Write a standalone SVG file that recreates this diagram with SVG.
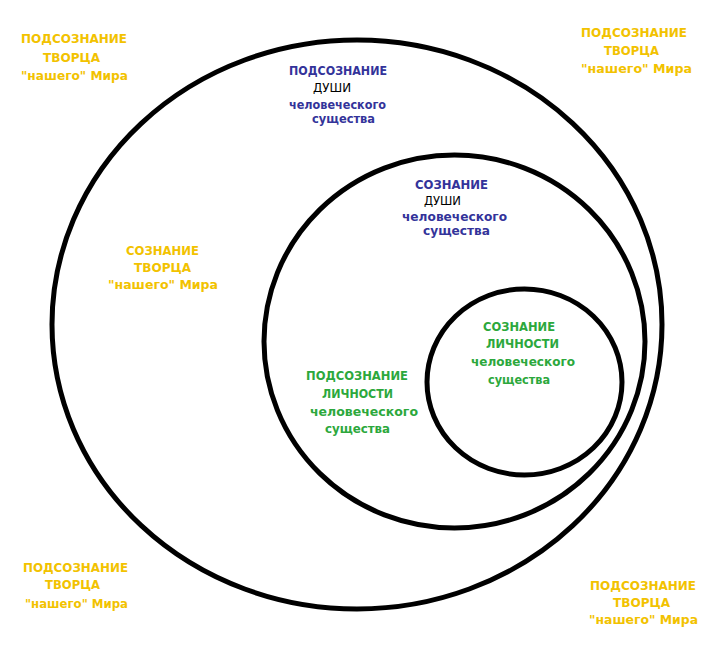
<svg xmlns="http://www.w3.org/2000/svg" width="723" height="660" viewBox="0 0 723 660">
<style>
.ring{fill:none;stroke:#000;stroke-width:5}
text{font-family:"DejaVu Sans","Liberation Sans",Arial,sans-serif;font-weight:bold;font-size:13px;}
.y{fill:#f2c200}
.b{fill:#33339a;font-size:12.5px}
.g{fill:#2ca83c;font-size:12.5px}
.k{fill:#000;font-weight:normal;font-size:13px}
</style>
<rect width="723" height="660" fill="#fff"/>
<g id="outer-circle"><ellipse class="ring" cx="357" cy="324.5" rx="305" ry="284.5"/></g>
<g id="middle-circle"><ellipse class="ring" cx="454.5" cy="341.5" rx="190.5" ry="186.5"/></g>
<g id="inner-circle"><ellipse class="ring" cx="524.5" cy="382" rx="97.5" ry="93" stroke-width="4.5"/></g>
<g id="connectors"></g>

<g id="label-top-left" class="y">
<text x="21" y="43" textLength="106" lengthAdjust="spacingAndGlyphs">ПОДСОЗНАНИЕ</text>
<text x="43" y="62" textLength="57" lengthAdjust="spacingAndGlyphs">ТВОРЦА</text>
<text x="21" y="80" textLength="107" lengthAdjust="spacingAndGlyphs">"нашего" Мира</text>
</g>
<g id="label-top-right" class="y">
<text x="581" y="37" textLength="106" lengthAdjust="spacingAndGlyphs">ПОДСОЗНАНИЕ</text>
<text x="604" y="55" textLength="55" lengthAdjust="spacingAndGlyphs">ТВОРЦА</text>
<text x="581" y="73" textLength="111" lengthAdjust="spacingAndGlyphs">"нашего" Мира</text>
</g>
<g id="label-creator-consciousness" class="y">
<text x="126" y="255" textLength="73" lengthAdjust="spacingAndGlyphs">СОЗНАНИЕ</text>
<text x="134" y="272" textLength="57" lengthAdjust="spacingAndGlyphs">ТВОРЦА</text>
<text x="108" y="289" textLength="110" lengthAdjust="spacingAndGlyphs">"нашего" Мира</text>
</g>
<g id="label-bottom-left" class="y">
<text x="23" y="572" textLength="105" lengthAdjust="spacingAndGlyphs">ПОДСОЗНАНИЕ</text>
<text x="45" y="589" textLength="55" lengthAdjust="spacingAndGlyphs">ТВОРЦА</text>
<text x="25" y="608" textLength="103" lengthAdjust="spacingAndGlyphs">"нашего" Мира</text>
</g>
<g id="label-bottom-right" class="y">
<text x="590" y="590" textLength="106" lengthAdjust="spacingAndGlyphs">ПОДСОЗНАНИЕ</text>
<text x="613" y="607" textLength="57" lengthAdjust="spacingAndGlyphs">ТВОРЦА</text>
<text x="589" y="624" textLength="109" lengthAdjust="spacingAndGlyphs">"нашего" Мира</text>
</g>

<g id="label-soul-subconscious">
<text class="b" x="289" y="75" textLength="98" lengthAdjust="spacingAndGlyphs">ПОДСОЗНАНИЕ</text>
<text class="k" x="313" y="92" textLength="38" lengthAdjust="spacingAndGlyphs">ДУШИ</text>
<text class="b" x="289" y="109" textLength="97" lengthAdjust="spacingAndGlyphs">человеческого</text>
<text class="b" x="312" y="123" textLength="63" lengthAdjust="spacingAndGlyphs">существа</text>
</g>
<g id="label-soul-consciousness">
<text class="b" x="415" y="189" textLength="73" lengthAdjust="spacingAndGlyphs">СОЗНАНИЕ</text>
<text class="k" x="424" y="205" textLength="37" lengthAdjust="spacingAndGlyphs">ДУШИ</text>
<text class="b" x="402" y="221" textLength="105" lengthAdjust="spacingAndGlyphs">человеческого</text>
<text class="b" x="423" y="234.5" textLength="67" lengthAdjust="spacingAndGlyphs">существа</text>
</g>
<g id="label-personality-subconscious">
<text class="g" x="306" y="380" textLength="102" lengthAdjust="spacingAndGlyphs">ПОДСОЗНАНИЕ</text>
<text class="g" x="322" y="398" textLength="71" lengthAdjust="spacingAndGlyphs">ЛИЧНОСТИ</text>
<text class="g" x="310" y="416" textLength="108" lengthAdjust="spacingAndGlyphs">человеческого</text>
<text class="g" x="325" y="433" textLength="65" lengthAdjust="spacingAndGlyphs">существа</text>
</g>
<g id="label-personality-consciousness">
<text class="g" x="483" y="331" textLength="72" lengthAdjust="spacingAndGlyphs">СОЗНАНИЕ</text>
<text class="g" x="486" y="348" textLength="73" lengthAdjust="spacingAndGlyphs">ЛИЧНОСТИ</text>
<text class="g" x="471" y="366" textLength="104" lengthAdjust="spacingAndGlyphs">человеческого</text>
<text class="g" x="488" y="384" textLength="62" lengthAdjust="spacingAndGlyphs">существа</text>
</g>
</svg>
